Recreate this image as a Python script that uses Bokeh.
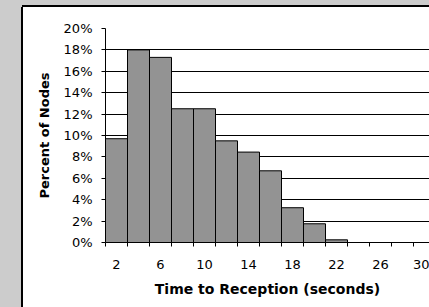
from bokeh.plotting import figure
from bokeh.layouts import row, column
from bokeh.models import FixedTicker, PrintfTickFormatter, Range1d, ColumnDataSource, Div
from bokeh.embed import file_html
from bokeh.resources import INLINE

# Data
times = [2, 4, 6, 8, 10, 12, 14, 16, 18, 20, 22, 24, 26, 28, 30]
percents = [9.7, 18.0, 17.3, 12.5, 12.5, 9.5, 8.45, 6.7, 3.25, 1.75, 0.25, 0, 0, 0, 0]
x_tick_labels = [2, 6, 10, 14, 18, 22, 26, 30]
y_ticks = [0, 2, 4, 6, 8, 10, 12, 14, 16, 18, 20]

FONT = "DejaVu Sans"
GRAY = "#cccccc"
TOTAL_W, TOTAL_H = 429, 307
TOP_H, LEFT_W = 7, 23

top_strip = Div(text="", width=TOTAL_W, height=TOP_H,
                styles={"background": f"linear-gradient(to right, {GRAY} {LEFT_W - 1}px, transparent {LEFT_W - 1}px), "
                                      f"linear-gradient(to top, black 1.5px, {GRAY} 1.5px)",
                        "margin": "0", "padding": "0"})
left_strip = Div(text="", width=LEFT_W, height=TOTAL_H - TOP_H,
                 styles={"background": f"linear-gradient(to left, black 1.5px, {GRAY} 1.5px)",
                         "margin": "0", "padding": "0"})

W, H = TOTAL_W - LEFT_W, TOTAL_H - TOP_H
frame_left = 105 - LEFT_W
frame_w = W - frame_left

p = figure(width=W, height=H, output_backend="svg", toolbar_location=None,
           x_range=Range1d(1, 1 + frame_w / 22 * 2), y_range=Range1d(0, 20),
           min_border_left=frame_left, min_border_right=0,
           min_border_top=28 - TOP_H, min_border_bottom=H - (242 - TOP_H))
p.border_fill_color = "white"
p.background_fill_color = "white"
p.outline_line_color = None

src = ColumnDataSource(dict(x=times, top=percents))
p.vbar(x="x", top="top", width=2, bottom=0, source=src,
       fill_color="#939393", line_color="black", line_width=1)

p.xgrid.grid_line_color = None
p.ygrid.grid_line_color = "black"
p.ygrid.grid_line_width = 1
p.ygrid.ticker = FixedTicker(ticks=y_ticks)

p.yaxis.ticker = FixedTicker(ticks=y_ticks)
p.yaxis.formatter = PrintfTickFormatter(format="%d%%")
p.yaxis.major_tick_out = 4
p.yaxis.major_tick_in = 0
p.yaxis.minor_tick_line_color = None
p.yaxis.axis_line_color = "black"
p.yaxis.major_tick_line_color = "black"
p.yaxis.major_label_standoff = 9
p.yaxis.major_label_text_font = FONT
p.yaxis.major_label_text_font_size = "13px"
p.yaxis.major_label_text_color = "black"
p.yaxis.axis_label = "Percent of Nodes"
p.yaxis.axis_label_text_font = FONT
p.yaxis.axis_label_text_font_size = "13px"
p.yaxis.axis_label_text_font_style = "bold"
p.yaxis.axis_label_text_color = "black"
p.yaxis.axis_label_standoff = 9

boundaries = [t - 1 for t in times] + [times[-1] + 1]
p.xaxis.ticker = FixedTicker(ticks=x_tick_labels, minor_ticks=boundaries)
p.xaxis.major_tick_out = 0
p.xaxis.major_tick_in = 0
p.xaxis.minor_tick_out = 4
p.xaxis.minor_tick_in = 0
p.xaxis.minor_tick_line_color = "black"
p.xaxis.axis_line_color = "black"
p.xaxis.major_label_standoff = 13
p.xaxis.major_label_text_font = FONT
p.xaxis.major_label_text_font_size = "13px"
p.xaxis.major_label_text_color = "black"
p.xaxis.axis_label = "Time to Reception (seconds)"
p.xaxis.axis_label_text_font = FONT
p.xaxis.axis_label_text_font_size = "14px"
p.xaxis.axis_label_text_font_style = "bold"
p.xaxis.axis_label_text_color = "black"
p.xaxis.axis_label_standoff = 9

layout = column(top_strip, row(left_strip, p, spacing=0), spacing=0)

open("out.html", "w").write(file_html(layout, INLINE))
